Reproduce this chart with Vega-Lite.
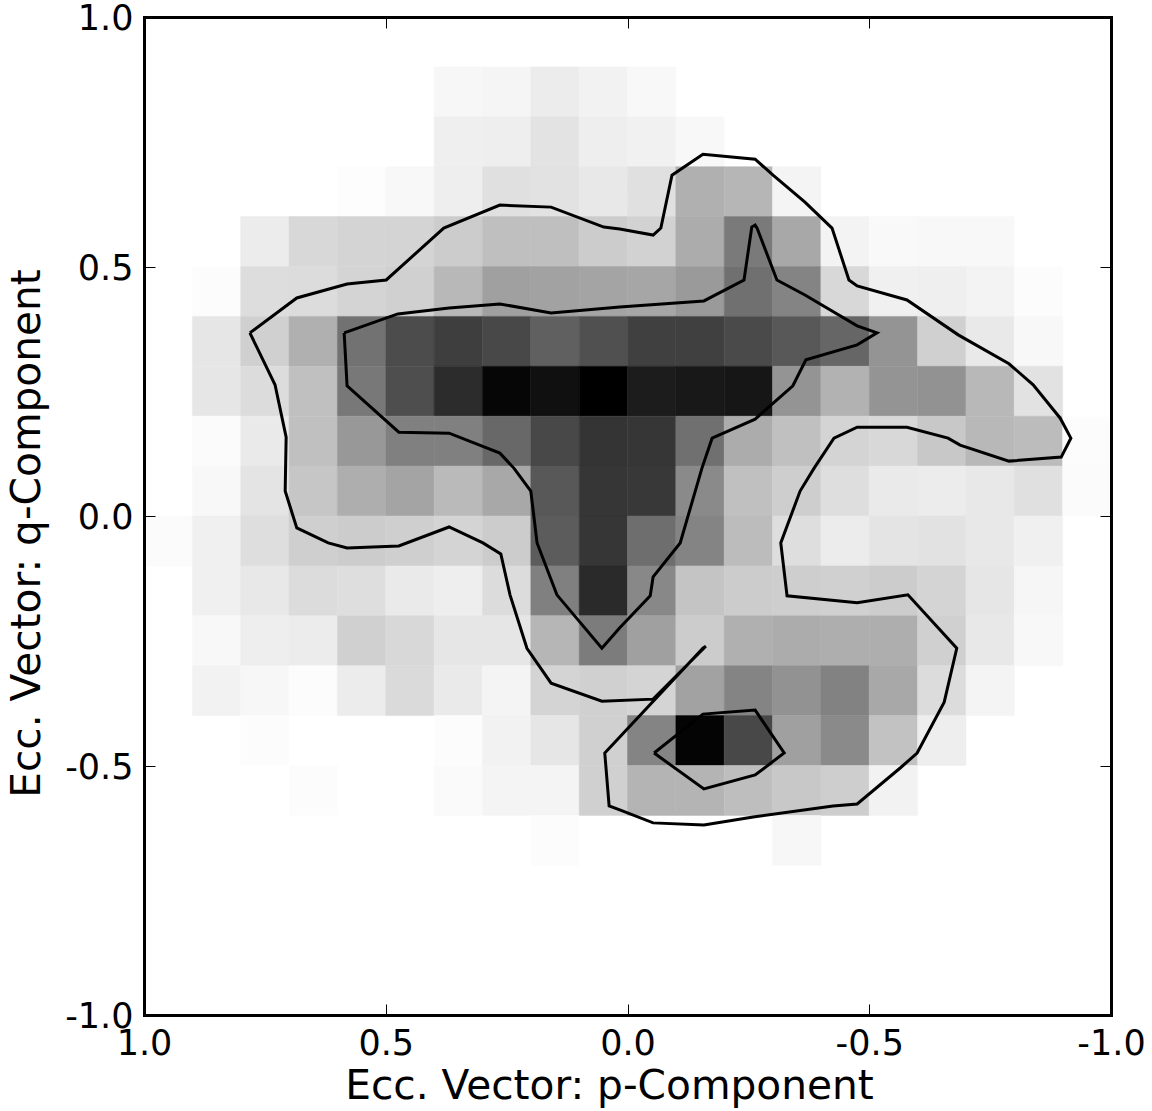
{"$schema":"https://vega.github.io/schema/vega-lite/v6.json","width":967,"height":998,"autosize":"none","padding":{"left":144,"top":17,"right":41,"bottom":96},"background":"white",
"config":{"view":{"stroke":null},"font":"DejaVu Sans"},
"datasets":{"cells":[
{"p":0.4,"p0":0.3,"q":0.9,"q0":0.8,"d":8},{"p":0.3,"p0":0.2,"q":0.9,"q0":0.8,"d":10},{"p":0.2,"p0":0.1,"q":0.9,"q0":0.8,"d":19},{"p":0.1,"p0":0,"q":0.9,"q0":0.8,"d":13},{"p":0,"p0":-0.1,"q":0.9,"q0":0.8,"d":7},
{"p":0.4,"p0":0.3,"q":0.8,"q0":0.7,"d":16},{"p":0.3,"p0":0.2,"q":0.8,"q0":0.7,"d":17},{"p":0.2,"p0":0.1,"q":0.8,"q0":0.7,"d":28},{"p":0.1,"p0":0,"q":0.8,"q0":0.7,"d":17},{"p":0,"p0":-0.1,"q":0.8,"q0":0.7,"d":14},{"p":-0.1,"p0":-0.2,"q":0.8,"q0":0.7,"d":7},
{"p":0.6,"p0":0.5,"q":0.7,"q0":0.6,"d":2},{"p":0.5,"p0":0.4,"q":0.7,"q0":0.6,"d":7},{"p":0.4,"p0":0.3,"q":0.7,"q0":0.6,"d":17},{"p":0.3,"p0":0.2,"q":0.7,"q0":0.6,"d":31},{"p":0.2,"p0":0.1,"q":0.7,"q0":0.6,"d":29},{"p":0.1,"p0":0,"q":0.7,"q0":0.6,"d":23},{"p":0,"p0":-0.1,"q":0.7,"q0":0.6,"d":31},{"p":-0.1,"p0":-0.2,"q":0.7,"q0":0.6,"d":79},{"p":-0.2,"p0":-0.3,"q":0.7,"q0":0.6,"d":73},{"p":-0.3,"p0":-0.4,"q":0.7,"q0":0.6,"d":11},
{"p":0.8,"p0":0.7,"q":0.6,"q0":0.5,"d":19},{"p":0.7,"p0":0.6,"q":0.6,"q0":0.5,"d":39},{"p":0.6,"p0":0.5,"q":0.6,"q0":0.5,"d":43},{"p":0.5,"p0":0.4,"q":0.6,"q0":0.5,"d":43},{"p":0.4,"p0":0.3,"q":0.6,"q0":0.5,"d":51},{"p":0.3,"p0":0.2,"q":0.6,"q0":0.5,"d":64},{"p":0.2,"p0":0.1,"q":0.6,"q0":0.5,"d":64},{"p":0.1,"p0":0,"q":0.6,"q0":0.5,"d":51},{"p":0,"p0":-0.1,"q":0.6,"q0":0.5,"d":45},{"p":-0.1,"p0":-0.2,"q":0.6,"q0":0.5,"d":83},{"p":-0.2,"p0":-0.3,"q":0.6,"q0":0.5,"d":133},{"p":-0.3,"p0":-0.4,"q":0.6,"q0":0.5,"d":87},{"p":-0.4,"p0":-0.5,"q":0.6,"q0":0.5,"d":12},{"p":-0.5,"p0":-0.6,"q":0.6,"q0":0.5,"d":6},{"p":-0.6,"p0":-0.7,"q":0.6,"q0":0.5,"d":7},{"p":-0.7,"p0":-0.8,"q":0.6,"q0":0.5,"d":7},
{"p":0.9,"p0":0.8,"q":0.5,"q0":0.4,"d":3},{"p":0.8,"p0":0.7,"q":0.5,"q0":0.4,"d":34},{"p":0.7,"p0":0.6,"q":0.5,"q0":0.4,"d":35},{"p":0.6,"p0":0.5,"q":0.5,"q0":0.4,"d":43},{"p":0.5,"p0":0.4,"q":0.5,"q0":0.4,"d":47},{"p":0.4,"p0":0.3,"q":0.5,"q0":0.4,"d":71},{"p":0.3,"p0":0.2,"q":0.5,"q0":0.4,"d":95},{"p":0.2,"p0":0.1,"q":0.5,"q0":0.4,"d":93},{"p":0.1,"p0":0,"q":0.5,"q0":0.4,"d":91},{"p":0,"p0":-0.1,"q":0.5,"q0":0.4,"d":89},{"p":-0.1,"p0":-0.2,"q":0.5,"q0":0.4,"d":101},{"p":-0.2,"p0":-0.3,"q":0.5,"q0":0.4,"d":143},{"p":-0.3,"p0":-0.4,"q":0.5,"q0":0.4,"d":123},{"p":-0.4,"p0":-0.5,"q":0.5,"q0":0.4,"d":39},{"p":-0.5,"p0":-0.6,"q":0.5,"q0":0.4,"d":15},{"p":-0.6,"p0":-0.7,"q":0.5,"q0":0.4,"d":16},{"p":-0.7,"p0":-0.8,"q":0.5,"q0":0.4,"d":12},{"p":-0.8,"p0":-0.9,"q":0.5,"q0":0.4,"d":3},
{"p":0.9,"p0":0.8,"q":0.4,"q0":0.3,"d":25},{"p":0.8,"p0":0.7,"q":0.4,"q0":0.3,"d":47},{"p":0.7,"p0":0.6,"q":0.4,"q0":0.3,"d":79},{"p":0.6,"p0":0.5,"q":0.4,"q0":0.3,"d":141},{"p":0.5,"p0":0.4,"q":0.4,"q0":0.3,"d":179},{"p":0.4,"p0":0.3,"q":0.4,"q0":0.3,"d":193},{"p":0.3,"p0":0.2,"q":0.4,"q0":0.3,"d":183},{"p":0.2,"p0":0.1,"q":0.4,"q0":0.3,"d":159},{"p":0.1,"p0":0,"q":0.4,"q0":0.3,"d":175},{"p":0,"p0":-0.1,"q":0.4,"q0":0.3,"d":191},{"p":-0.1,"p0":-0.2,"q":0.4,"q0":0.3,"d":191},{"p":-0.2,"p0":-0.3,"q":0.4,"q0":0.3,"d":181},{"p":-0.3,"p0":-0.4,"q":0.4,"q0":0.3,"d":167},{"p":-0.4,"p0":-0.5,"q":0.4,"q0":0.3,"d":153},{"p":-0.5,"p0":-0.6,"q":0.4,"q0":0.3,"d":107},{"p":-0.6,"p0":-0.7,"q":0.4,"q0":0.3,"d":47},{"p":-0.7,"p0":-0.8,"q":0.4,"q0":0.3,"d":22},{"p":-0.8,"p0":-0.9,"q":0.4,"q0":0.3,"d":7},
{"p":0.9,"p0":0.8,"q":0.3,"q0":0.2,"d":25},{"p":0.8,"p0":0.7,"q":0.3,"q0":0.2,"d":35},{"p":0.7,"p0":0.6,"q":0.3,"q0":0.2,"d":63},{"p":0.6,"p0":0.5,"q":0.3,"q0":0.2,"d":135},{"p":0.5,"p0":0.4,"q":0.3,"q0":0.2,"d":177},{"p":0.4,"p0":0.3,"q":0.3,"q0":0.2,"d":211},{"p":0.3,"p0":0.2,"q":0.3,"q0":0.2,"d":249},{"p":0.2,"p0":0.1,"q":0.3,"q0":0.2,"d":239},{"p":0.1,"p0":0,"q":0.3,"q0":0.2,"d":255},{"p":0,"p0":-0.1,"q":0.3,"q0":0.2,"d":227},{"p":-0.1,"p0":-0.2,"q":0.3,"q0":0.2,"d":231},{"p":-0.2,"p0":-0.3,"q":0.3,"q0":0.2,"d":233},{"p":-0.3,"p0":-0.4,"q":0.3,"q0":0.2,"d":107},{"p":-0.4,"p0":-0.5,"q":0.3,"q0":0.2,"d":77},{"p":-0.5,"p0":-0.6,"q":0.3,"q0":0.2,"d":107},{"p":-0.6,"p0":-0.7,"q":0.3,"q0":0.2,"d":109},{"p":-0.7,"p0":-0.8,"q":0.3,"q0":0.2,"d":71},{"p":-0.8,"p0":-0.9,"q":0.3,"q0":0.2,"d":29},
{"p":0.9,"p0":0.8,"q":0.2,"q0":0.1,"d":4},{"p":0.8,"p0":0.7,"q":0.2,"q0":0.1,"d":21},{"p":0.7,"p0":0.6,"q":0.2,"q0":0.1,"d":63},{"p":0.6,"p0":0.5,"q":0.2,"q0":0.1,"d":103},{"p":0.5,"p0":0.4,"q":0.2,"q0":0.1,"d":127},{"p":0.4,"p0":0.3,"q":0.2,"q0":0.1,"d":127},{"p":0.3,"p0":0.2,"q":0.2,"q0":0.1,"d":151},{"p":0.2,"p0":0.1,"q":0.2,"q0":0.1,"d":183},{"p":0.1,"p0":0,"q":0.2,"q0":0.1,"d":203},{"p":0,"p0":-0.1,"q":0.2,"q0":0.1,"d":201},{"p":-0.1,"p0":-0.2,"q":0.2,"q0":0.1,"d":143},{"p":-0.2,"p0":-0.3,"q":0.2,"q0":0.1,"d":83},{"p":-0.3,"p0":-0.4,"q":0.2,"q0":0.1,"d":63},{"p":-0.4,"p0":-0.5,"q":0.2,"q0":0.1,"d":43},{"p":-0.5,"p0":-0.6,"q":0.2,"q0":0.1,"d":39},{"p":-0.6,"p0":-0.7,"q":0.2,"q0":0.1,"d":55},{"p":-0.7,"p0":-0.8,"q":0.2,"q0":0.1,"d":71},{"p":-0.8,"p0":-0.9,"q":0.2,"q0":0.1,"d":67},{"p":-0.9,"p0":-1,"q":0.2,"q0":0.1,"d":3},
{"p":0.9,"p0":0.8,"q":0.1,"q0":0,"d":7},{"p":0.8,"p0":0.7,"q":0.1,"q0":0,"d":27},{"p":0.7,"p0":0.6,"q":0.1,"q0":0,"d":57},{"p":0.6,"p0":0.5,"q":0.1,"q0":0,"d":81},{"p":0.5,"p0":0.4,"q":0.1,"q0":0,"d":91},{"p":0.4,"p0":0.3,"q":0.1,"q0":0,"d":69},{"p":0.3,"p0":0.2,"q":0.1,"q0":0,"d":87},{"p":0.2,"p0":0.1,"q":0.1,"q0":0,"d":167},{"p":0.1,"p0":0,"q":0.1,"q0":0,"d":201},{"p":0,"p0":-0.1,"q":0.1,"q0":0,"d":199},{"p":-0.1,"p0":-0.2,"q":0.1,"q0":0,"d":117},{"p":-0.2,"p0":-0.3,"q":0.1,"q0":0,"d":63},{"p":-0.3,"p0":-0.4,"q":0.1,"q0":0,"d":49},{"p":-0.4,"p0":-0.5,"q":0.1,"q0":0,"d":33},{"p":-0.5,"p0":-0.6,"q":0.1,"q0":0,"d":21},{"p":-0.6,"p0":-0.7,"q":0.1,"q0":0,"d":19},{"p":-0.7,"p0":-0.8,"q":0.1,"q0":0,"d":23},{"p":-0.8,"p0":-0.9,"q":0.1,"q0":0,"d":31},{"p":-0.9,"p0":-1,"q":0.1,"q0":0,"d":4},
{"p":1,"p0":0.9,"q":0,"q0":-0.1,"d":4},{"p":0.9,"p0":0.8,"q":0,"q0":-0.1,"d":15},{"p":0.8,"p0":0.7,"q":0,"q0":-0.1,"d":33},{"p":0.7,"p0":0.6,"q":0,"q0":-0.1,"d":48},{"p":0.6,"p0":0.5,"q":0,"q0":-0.1,"d":51},{"p":0.5,"p0":0.4,"q":0,"q0":-0.1,"d":48},{"p":0.4,"p0":0.3,"q":0,"q0":-0.1,"d":43},{"p":0.3,"p0":0.2,"q":0,"q0":-0.1,"d":51},{"p":0.2,"p0":0.1,"q":0,"q0":-0.1,"d":163},{"p":0.1,"p0":0,"q":0,"q0":-0.1,"d":201},{"p":0,"p0":-0.1,"q":0,"q0":-0.1,"d":145},{"p":-0.1,"p0":-0.2,"q":0,"q0":-0.1,"d":123},{"p":-0.2,"p0":-0.3,"q":0,"q0":-0.1,"d":67},{"p":-0.3,"p0":-0.4,"q":0,"q0":-0.1,"d":33},{"p":-0.4,"p0":-0.5,"q":0,"q0":-0.1,"d":19},{"p":-0.5,"p0":-0.6,"q":0,"q0":-0.1,"d":27},{"p":-0.6,"p0":-0.7,"q":0,"q0":-0.1,"d":29},{"p":-0.7,"p0":-0.8,"q":0,"q0":-0.1,"d":23},{"p":-0.8,"p0":-0.9,"q":0,"q0":-0.1,"d":15},
{"p":0.9,"p0":0.8,"q":-0.1,"q0":-0.2,"d":15},{"p":0.8,"p0":0.7,"q":-0.1,"q0":-0.2,"d":23},{"p":0.7,"p0":0.6,"q":-0.1,"q0":-0.2,"d":35},{"p":0.6,"p0":0.5,"q":-0.1,"q0":-0.2,"d":33},{"p":0.5,"p0":0.4,"q":-0.1,"q0":-0.2,"d":21},{"p":0.4,"p0":0.3,"q":-0.1,"q0":-0.2,"d":17},{"p":0.3,"p0":0.2,"q":-0.1,"q0":-0.2,"d":35},{"p":0.2,"p0":0.1,"q":-0.1,"q0":-0.2,"d":127},{"p":0.1,"p0":0,"q":-0.1,"q0":-0.2,"d":213},{"p":0,"p0":-0.1,"q":-0.1,"q0":-0.2,"d":119},{"p":-0.1,"p0":-0.2,"q":-0.1,"q0":-0.2,"d":59},{"p":-0.2,"p0":-0.3,"q":-0.1,"q0":-0.2,"d":51},{"p":-0.3,"p0":-0.4,"q":-0.1,"q0":-0.2,"d":49},{"p":-0.4,"p0":-0.5,"q":-0.1,"q0":-0.2,"d":47},{"p":-0.5,"p0":-0.6,"q":-0.1,"q0":-0.2,"d":51},{"p":-0.6,"p0":-0.7,"q":-0.1,"q0":-0.2,"d":43},{"p":-0.7,"p0":-0.8,"q":-0.1,"q0":-0.2,"d":25},{"p":-0.8,"p0":-0.9,"q":-0.1,"q0":-0.2,"d":9},
{"p":0.9,"p0":0.8,"q":-0.2,"q0":-0.3,"d":7},{"p":0.8,"p0":0.7,"q":-0.2,"q0":-0.3,"d":17},{"p":0.7,"p0":0.6,"q":-0.2,"q0":-0.3,"d":19},{"p":0.6,"p0":0.5,"q":-0.2,"q0":-0.3,"d":47},{"p":0.5,"p0":0.4,"q":-0.2,"q0":-0.3,"d":39},{"p":0.4,"p0":0.3,"q":-0.2,"q0":-0.3,"d":25},{"p":0.3,"p0":0.2,"q":-0.2,"q0":-0.3,"d":25},{"p":0.2,"p0":0.1,"q":-0.2,"q0":-0.3,"d":73},{"p":0.1,"p0":0,"q":-0.2,"q0":-0.3,"d":131},{"p":0,"p0":-0.1,"q":-0.2,"q0":-0.3,"d":95},{"p":-0.1,"p0":-0.2,"q":-0.2,"q0":-0.3,"d":51},{"p":-0.2,"p0":-0.3,"q":-0.2,"q0":-0.3,"d":79},{"p":-0.3,"p0":-0.4,"q":-0.2,"q0":-0.3,"d":83},{"p":-0.4,"p0":-0.5,"q":-0.2,"q0":-0.3,"d":81},{"p":-0.5,"p0":-0.6,"q":-0.2,"q0":-0.3,"d":81},{"p":-0.6,"p0":-0.7,"q":-0.2,"q0":-0.3,"d":47},{"p":-0.7,"p0":-0.8,"q":-0.2,"q0":-0.3,"d":23},{"p":-0.8,"p0":-0.9,"q":-0.2,"q0":-0.3,"d":7},
{"p":0.9,"p0":0.8,"q":-0.3,"q0":-0.4,"d":13},{"p":0.8,"p0":0.7,"q":-0.3,"q0":-0.4,"d":8},{"p":0.7,"p0":0.6,"q":-0.3,"q0":-0.4,"d":3},{"p":0.6,"p0":0.5,"q":-0.3,"q0":-0.4,"d":19},{"p":0.5,"p0":0.4,"q":-0.3,"q0":-0.4,"d":37},{"p":0.4,"p0":0.3,"q":-0.3,"q0":-0.4,"d":21},{"p":0.3,"p0":0.2,"q":-0.3,"q0":-0.4,"d":11},{"p":0.2,"p0":0.1,"q":-0.3,"q0":-0.4,"d":43},{"p":0.1,"p0":0,"q":-0.3,"q0":-0.4,"d":47},{"p":0,"p0":-0.1,"q":-0.3,"q0":-0.4,"d":43},{"p":-0.1,"p0":-0.2,"q":-0.3,"q0":-0.4,"d":93},{"p":-0.2,"p0":-0.3,"q":-0.3,"q0":-0.4,"d":123},{"p":-0.3,"p0":-0.4,"q":-0.3,"q0":-0.4,"d":109},{"p":-0.4,"p0":-0.5,"q":-0.3,"q0":-0.4,"d":125},{"p":-0.5,"p0":-0.6,"q":-0.3,"q0":-0.4,"d":87},{"p":-0.6,"p0":-0.7,"q":-0.3,"q0":-0.4,"d":35},{"p":-0.7,"p0":-0.8,"q":-0.3,"q0":-0.4,"d":11},
{"p":0.8,"p0":0.7,"q":-0.4,"q0":-0.5,"d":3},{"p":0.4,"p0":0.3,"q":-0.4,"q0":-0.5,"d":3},{"p":0.3,"p0":0.2,"q":-0.4,"q0":-0.5,"d":13},{"p":0.2,"p0":0.1,"q":-0.4,"q0":-0.5,"d":25},{"p":0.1,"p0":0,"q":-0.4,"q0":-0.5,"d":47},{"p":0,"p0":-0.1,"q":-0.4,"q0":-0.5,"d":123},{"p":-0.1,"p0":-0.2,"q":-0.4,"q0":-0.5,"d":251},{"p":-0.2,"p0":-0.3,"q":-0.4,"q0":-0.5,"d":183},{"p":-0.3,"p0":-0.4,"q":-0.4,"q0":-0.5,"d":95},{"p":-0.4,"p0":-0.5,"q":-0.4,"q0":-0.5,"d":117},{"p":-0.5,"p0":-0.6,"q":-0.4,"q0":-0.5,"d":61},{"p":-0.6,"p0":-0.7,"q":-0.4,"q0":-0.5,"d":17},
{"p":0.7,"p0":0.6,"q":-0.5,"q0":-0.6,"d":3},{"p":0.4,"p0":0.3,"q":-0.5,"q0":-0.6,"d":5},{"p":0.3,"p0":0.2,"q":-0.5,"q0":-0.6,"d":11},{"p":0.2,"p0":0.1,"q":-0.5,"q0":-0.6,"d":11},{"p":0.1,"p0":0,"q":-0.5,"q0":-0.6,"d":47},{"p":0,"p0":-0.1,"q":-0.5,"q0":-0.6,"d":75},{"p":-0.1,"p0":-0.2,"q":-0.5,"q0":-0.6,"d":75},{"p":-0.2,"p0":-0.3,"q":-0.5,"q0":-0.6,"d":65},{"p":-0.3,"p0":-0.4,"q":-0.5,"q0":-0.6,"d":55},{"p":-0.4,"p0":-0.5,"q":-0.5,"q0":-0.6,"d":49},{"p":-0.5,"p0":-0.6,"q":-0.5,"q0":-0.6,"d":13},
{"p":0.2,"p0":0.1,"q":-0.6,"q0":-0.7,"d":3},{"p":-0.3,"p0":-0.4,"q":-0.6,"q0":-0.7,"d":8}
],
"lines":[
{"g":"a","i":0,"p":0.781,"q":0.367},{"g":"a","i":1,"p":0.684,"q":0.437},{"g":"a","i":2,"p":0.58,"q":0.465},{"g":"a","i":3,"p":0.499,"q":0.473},{"g":"a","i":4,"p":0.38,"q":0.577},{"g":"a","i":5,"p":0.264,"q":0.623},{"g":"a","i":6,"p":0.158,"q":0.619},{"g":"a","i":7,"p":0.049,"q":0.579},{"g":"a","i":8,"p":0.016,"q":0.575},{"g":"a","i":9,"p":-0.053,"q":0.563},{"g":"a","i":10,"p":-0.069,"q":0.577},{"g":"a","i":11,"p":-0.092,"q":0.683},{"g":"a","i":12,"p":-0.156,"q":0.725},{"g":"a","i":13,"p":-0.264,"q":0.715},{"g":"a","i":14,"p":-0.301,"q":0.683},{"g":"a","i":15,"p":-0.367,"q":0.629},{"g":"a","i":16,"p":-0.423,"q":0.577},{"g":"a","i":17,"p":-0.458,"q":0.473},{"g":"a","i":18,"p":-0.475,"q":0.461},{"g":"a","i":19,"p":-0.578,"q":0.433},{"g":"a","i":20,"p":-0.684,"q":0.363},{"g":"a","i":21,"p":-0.789,"q":0.305},{"g":"a","i":22,"p":-0.839,"q":0.263},{"g":"a","i":23,"p":-0.895,"q":0.196},{"g":"a","i":24,"p":-0.917,"q":0.156},{"g":"a","i":25,"p":-0.897,"q":0.118},{"g":"a","i":26,"p":-0.789,"q":0.11},{"g":"a","i":27,"p":-0.688,"q":0.142},{"g":"a","i":28,"p":-0.663,"q":0.156},{"g":"a","i":29,"p":-0.578,"q":0.178},{"g":"a","i":30,"p":-0.475,"q":0.178},{"g":"a","i":31,"p":-0.427,"q":0.156},{"g":"a","i":32,"p":-0.386,"q":0.096},{"g":"a","i":33,"p":-0.357,"q":0.05},{"g":"a","i":34,"p":-0.317,"q":-0.054},{"g":"a","i":35,"p":-0.33,"q":-0.16},{"g":"a","i":36,"p":-0.475,"q":-0.174},{"g":"a","i":37,"p":-0.58,"q":-0.158},{"g":"a","i":38,"p":-0.681,"q":-0.265},{"g":"a","i":39,"p":-0.655,"q":-0.373},{"g":"a","i":40,"p":-0.599,"q":-0.475},{"g":"a","i":41,"p":-0.564,"q":-0.505},{"g":"a","i":42,"p":-0.475,"q":-0.577},{"g":"a","i":43,"p":-0.425,"q":-0.581},{"g":"a","i":44,"p":-0.26,"q":-0.603},{"g":"a","i":45,"p":-0.158,"q":-0.619},{"g":"a","i":46,"p":-0.053,"q":-0.615},{"g":"a","i":47,"p":0.016,"q":-0.589},{"g":"a","i":48,"p":0.038,"q":-0.581},{"g":"a","i":49,"p":0.047,"q":-0.475},{"g":"a","i":50,"p":-0.156,"q":-0.265},{"g":"a","i":51,"p":-0.162,"q":-0.261},{"g":"a","i":52,"p":-0.053,"q":-0.367},{"g":"a","i":53,"p":0.053,"q":-0.371},{"g":"a","i":54,"p":0.158,"q":-0.335},{"g":"a","i":55,"p":0.208,"q":-0.265},{"g":"a","i":56,"p":0.243,"q":-0.158},{"g":"a","i":57,"p":0.262,"q":-0.076},{"g":"a","i":58,"p":0.299,"q":-0.054},{"g":"a","i":59,"p":0.369,"q":-0.022},{"g":"a","i":60,"p":0.473,"q":-0.06},{"g":"a","i":61,"p":0.58,"q":-0.064},{"g":"a","i":62,"p":0.619,"q":-0.054},{"g":"a","i":63,"p":0.684,"q":-0.024},{"g":"a","i":64,"p":0.708,"q":0.05},{"g":"a","i":65,"p":0.706,"q":0.158},{"g":"a","i":66,"p":0.729,"q":0.263},{"g":"a","i":67,"p":0.781,"q":0.367},
{"g":"b","i":0,"p":0.586,"q":0.367},{"g":"b","i":1,"p":0.475,"q":0.405},{"g":"b","i":2,"p":0.369,"q":0.417},{"g":"b","i":3,"p":0.264,"q":0.425},{"g":"b","i":4,"p":0.158,"q":0.407},{"g":"b","i":5,"p":0.016,"q":0.419},{"g":"b","i":6,"p":-0.158,"q":0.431},{"g":"b","i":7,"p":-0.241,"q":0.473},{"g":"b","i":8,"p":-0.257,"q":0.579},{"g":"b","i":9,"p":-0.264,"q":0.583},{"g":"b","i":10,"p":-0.268,"q":0.577},{"g":"b","i":11,"p":-0.309,"q":0.473},{"g":"b","i":12,"p":-0.367,"q":0.443},{"g":"b","i":13,"p":-0.475,"q":0.381},{"g":"b","i":14,"p":-0.516,"q":0.367},{"g":"b","i":15,"p":-0.475,"q":0.343},{"g":"b","i":16,"p":-0.369,"q":0.313},{"g":"b","i":17,"p":-0.342,"q":0.261},{"g":"b","i":18,"p":-0.264,"q":0.194},{"g":"b","i":19,"p":-0.175,"q":0.156},{"g":"b","i":20,"p":-0.154,"q":0.096},{"g":"b","i":21,"p":-0.109,"q":-0.054},{"g":"b","i":22,"p":-0.053,"q":-0.122},{"g":"b","i":23,"p":-0.047,"q":-0.16},{"g":"b","i":24,"p":0.016,"q":-0.224},{"g":"b","i":25,"p":0.053,"q":-0.265},{"g":"b","i":26,"p":0.146,"q":-0.158},{"g":"b","i":27,"p":0.187,"q":-0.054},{"g":"b","i":28,"p":0.2,"q":0.05},{"g":"b","i":29,"p":0.235,"q":0.096},{"g":"b","i":30,"p":0.264,"q":0.126},{"g":"b","i":31,"p":0.369,"q":0.166},{"g":"b","i":32,"p":0.473,"q":0.168},{"g":"b","i":33,"p":0.58,"q":0.261},{"g":"b","i":34,"p":0.586,"q":0.367},
{"g":"c","i":0,"p":-0.055,"q":-0.475},{"g":"c","i":1,"p":-0.156,"q":-0.397},{"g":"c","i":2,"p":-0.264,"q":-0.389},{"g":"c","i":3,"p":-0.324,"q":-0.475},{"g":"c","i":4,"p":-0.264,"q":-0.519},{"g":"c","i":5,"p":-0.158,"q":-0.547},{"g":"c","i":6,"p":-0.055,"q":-0.475}
]},
"layer":[
{"data":{"name":"cells"},"mark":{"type":"rect","strokeWidth":0.5},
"encoding":{
"x":{"field":"p","type":"quantitative","scale":{"domain":[1,-1],"nice":false,"zero":false},"axis":{"orient":"bottom","zindex":1,"values":[1,0.5,0,-0.5,-1],"grid":false,"domain":true,"domainColor":"#000000","domainWidth":3,"domainCap":"square","tickSize":-11,"tickColor":"#000000","tickWidth":1,"labelExpr":"replace(format(datum.value,'.1f'),'\u2212','-')","labelFont":"DejaVu Sans","labelFontSize":35,"labelColor":"#000000","labelPadding":22,"labelFlush":false,"labelOverlap":false,"labelBound":false,"title":"Ecc. Vector: p-Component","titleFont":"DejaVu Sans","titleFontSize":40.7,"titleFontWeight":"normal","titleColor":"#000000","titlePadding":5,"titleX":465}},
"x2":{"field":"p0"},
"y":{"field":"q","type":"quantitative","scale":{"domain":[-1,1],"nice":false,"zero":false},"axis":{"orient":"left","zindex":1,"values":[1,0.5,0,-0.5,-1],"grid":false,"domain":true,"domainColor":"#000000","domainWidth":3,"domainCap":"square","tickSize":-11,"tickColor":"#000000","tickWidth":1,"labelExpr":"replace(format(datum.value,'.1f'),'\u2212','-')","labelFont":"DejaVu Sans","labelFontSize":35,"labelColor":"#000000","labelPadding":22,"labelOffset":1.5,"labelFlush":false,"labelOverlap":false,"labelBound":false,"title":"Ecc. Vector: q-Component","titleFont":"DejaVu Sans","titleFontSize":40.7,"titleFontWeight":"normal","titleColor":"#000000","titlePadding":16,"titleY":516}},
"y2":{"field":"q0"},
"fill":{"field":"d","type":"quantitative","scale":{"domain":[0,255],"range":["#ffffff","#000000"],"interpolate":"rgb"},"legend":null},
"stroke":{"field":"d","type":"quantitative","scale":{"domain":[0,255],"range":["#ffffff","#000000"],"interpolate":"rgb"},"legend":null}
}},
{"data":{"name":"lines"},"mark":{"type":"line","color":"#000000","strokeWidth":3,"strokeJoin":"miter","clip":true},
"encoding":{
"x":{"field":"p","type":"quantitative","scale":{"domain":[1,-1],"nice":false,"zero":false},"axis":{"orient":"top","zindex":1,"values":[1,0.5,0,-0.5,-1],"grid":false,"domain":true,"domainColor":"#000000","domainWidth":3,"domainCap":"square","labels":false,"tickSize":-11,"tickColor":"#000000","tickWidth":1,"title":null}},
"y":{"field":"q","type":"quantitative","scale":{"domain":[-1,1],"nice":false,"zero":false},"axis":{"orient":"right","zindex":1,"values":[1,0.5,0,-0.5,-1],"grid":false,"domain":true,"domainColor":"#000000","domainWidth":3,"domainCap":"square","labels":false,"tickSize":-11,"tickColor":"#000000","tickWidth":1,"title":null}},
"detail":{"field":"g"},
"order":{"field":"i","type":"quantitative"}
}}
],
"resolve":{"scale":{"x":"independent","y":"independent"},"axis":{"x":"independent","y":"independent"}}
}
